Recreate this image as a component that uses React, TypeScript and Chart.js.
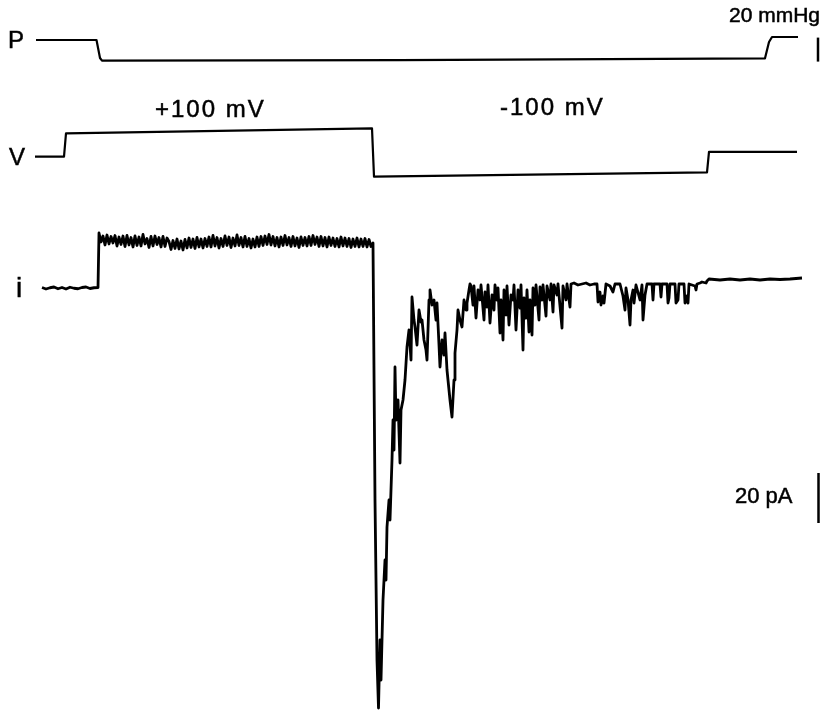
import React, { useEffect, useRef } from "react";
import { Chart, registerables } from "chart.js";

Chart.register(...registerables);

// ---- Time axis (ms) ----
const TIME_MIN = -84;
const TIME_MAX = 1562;

// ---- Pressure trace (mmHg) ----
const pressureTimes = [-12, 109, 116, 120, 716, 1446, 1454, 1460, 1512];
const pressureValues = [0, 0, -15, -17.2, -16.8, -15.3, -1.7, 2.5, 2.5];

// ---- Voltage trace (mV) ----
const voltageTimes = [-14, 44, 48, 660, 664, 1330, 1334, 1510];
const voltageValues = [0, 0, 100, 121, -85, -67, 21, 21];

// ---- Current trace (pA) ----
// resting current before suction, sampled every 8 ms from t = 0
const restStart = 0;
const restStep = 8;
const restCurrent = [0.2, -0.4, 0.1, 0.4, -0.3, 0.2, -0.4, 0.3, -0.1, -0.3, 0.2, 0.4, -0.2, 0.1, 0.2];

// current at +100 mV during suction, sampled every 4 ms from t = 114
const plateauStart = 114;
const plateauStep = 4;
const plateauCurrent = [
  22.0, 18.4, 20.8, 17.2, 21.2, 17.6, 20.6, 18.0, 21.0, 16.8, 20.4, 17.4,
  20.8, 16.6, 21.0, 17.2, 20.2, 16.4, 20.8, 17.0, 20.4, 16.8, 21.4, 17.6, 19.8, 16.2, 20.6, 16.8, 20.8, 17.4, 20.2, 16.4, 20.6, 16.6, 20.0,
  18.6, 15.4, 19.0, 15.8, 19.6, 15.6, 18.8, 15.2, 19.4, 16.0, 20.0, 16.2, 19.6, 15.8, 20.2, 16.4, 19.6, 16.0, 19.8,
  16.6, 20.4, 16.4, 21.0, 16.8, 20.2, 16.0, 19.8, 16.6, 20.8, 17.0, 20.4, 16.2, 20.0, 16.8, 21.2, 17.0, 20.2, 16.4, 20.6, 16.6, 19.8, 16.0, 19.6, 16.4,
  20.4, 16.6, 20.6, 17.0, 20.8, 17.4, 21.4, 17.2, 20.6, 16.8, 20.2, 16.4, 20.4, 17.0, 21.0, 17.2, 20.2, 16.6, 20.6, 16.8, 20.0, 16.2, 20.4, 17.0, 20.2,
  16.8, 20.6, 17.0, 21.0, 17.4, 20.4, 16.6, 20.6, 16.8, 20.2, 16.4, 20.4, 17.0, 20.0, 16.6, 19.8, 16.4, 20.4, 16.8, 20.0, 16.6, 19.8, 16.2, 19.6, 16.6, 20.0, 16.4, 19.6, 16.6, 19.8, 16.4, 19.4, 16.6,
];

// tail current at -100 mV (irregular times)
const tailTimes = [
  662, 666, 670, 673, 676, 678, 682, 686, 688, 690, 694, 696, 700, 702, 704, 706, 708, 712, 716, 718,
  722, 726, 730, 734, 738, 740, 744, 746, 750, 754, 758, 760, 764, 768, 770, 774, 776, 780, 784, 788,
  790, 794, 796, 800, 804, 806, 810, 814, 816, 820, 824, 826, 830, 832, 836, 840, 844, 848, 850, 854,
];
const tailCurrent = [
  18.0, -84.8, -148.8, -168.0, -140.8, -156.8, -124.8, -108.8, -116.8, -95.6, -84.8, -92.8, -68.8, -52.8, -64.8, -31.6, -52.8, -44.8, -70.0, -48.8,
  -44.8, -36.8, -23.6, -16.8, -28.8, -3.6, -12.8, -15.6, -22.8, -8.8, -13.6, -12.8, -20.8, -24.8, -28.8, -4.8, -0.8, -6.8, -4.8, -12.8,
  -6.0, -22.8, -31.6, -20.8, -26.8, -18.0, -32.8, -40.8, -44.8, -51.6, -36.8, -26.0, -16.8, -8.8, -12.8, -15.6, -4.8, -8.8, -6.0, -0.8,
];

// single-channel flickering (irregular times)
const flickerTimes = [
  856, 858, 862, 864, 868, 872, 876, 878, 884, 886, 890, 892, 896, 900, 904, 906, 910, 912, 916, 918,
  922, 924, 928, 930, 934, 938, 942, 944, 948, 952, 956, 958, 962, 964, 968, 970, 974, 976, 980, 982,
  986, 988, 994, 996, 1000, 1002, 1008, 1010, 1016, 1018, 1022, 1024, 1030, 1032, 1040, 1042, 1048, 1050, 1056, 1058,
  1064, 1072, 1080, 1088, 1096, 1104, 1110,
  1112, 1116, 1118, 1122, 1124, 1128, 1136, 1142, 1146, 1156, 1162, 1166, 1168, 1172, 1176, 1178, 1182, 1184, 1188, 1196,
  1200, 1202, 1206, 1210, 1220, 1222, 1224, 1236, 1238, 1240, 1250, 1252, 1254, 1256, 1266, 1268, 1272, 1274, 1284, 1286,
  1290, 1292, 1294, 1306, 1308, 1310, 1316, 1320, 1328, 1330, 1334, 1356, 1376, 1396, 1416, 1436, 1456, 1476, 1496, 1520,
];
const flickerCurrent = [
  1.6, 0.8, -6.8, 0.8, -12.0, -0.8, -4.8, 1.2, -12.8, -1.6, -7.6, 1.2, -14.0, -2.8, -8.8, 1.2, -4.8, 0.0, -18.0, -4.8,
  -20.8, -0.8, -10.8, 0.8, -14.8, -2.8, -4.8, 1.2, -16.8, -0.8, -8.0, 1.2, -24.8, -4.0, -12.0, -0.8, -17.6, -4.8, -18.8, 0.0,
  -6.8, 1.2, -12.8, 0.4, -4.8, 1.2, -11.2, 0.8, -4.8, 1.6, -9.6, 1.2, -2.8, 1.6, -16.0, 0.8, -4.8, 1.6, -7.6, 1.6,
  2.0, 1.2, 1.6, 2.0, 1.2, 1.6, 1.6,
  -5.6, -1.6, -6.8, -3.2, -6.0, 1.6, 0.8, -1.6, 1.6, 1.6, -3.2, -8.8, 0.0, -4.8, -14.8, -4.8, -0.8, -6.0, 1.2, -4.8,
  1.2, -12.8, -2.8, 1.6, 1.6, -4.8, 1.6, 1.6, -3.6, 1.6, 1.6, -6.0, -4.0, 1.6, 1.6, -6.0, -4.8, 1.6, 1.6, -6.0,
  -3.2, -6.0, 1.6, 0.8, -0.8, 1.6, 2.0, 2.4, 2.0, 2.8, 3.6, 3.2, 3.6, 3.2, 3.6, 3.2, 3.6, 3.4, 3.6, 4.0,
];

// ---- Scale bars ----
const pressureBarTime = 1552;
const pressureBar = [-18, 2]; // 20 mmHg
const currentBarTime = 1553;
const currentBar = [-94, -74]; // 20 pA

// ---- Axis ranges ----
const P_MIN = -559.1667;
const P_MAX = 33.3333;
const V_MIN = -2368.8;
const V_MAX = 669.7;
const I_MIN = -169.2;
const I_MAX = 115.2;

const FONT = '"Liberation Sans", Arial, Helvetica, sans-serif';

type Label = { text: string; x: number; y: number; size: number; align: CanvasTextAlign; spacing: string };
const LABELS: Label[] = [
  { text: "P", x: 8, y: 48, size: 24, align: "left", spacing: "0px" },
  { text: "V", x: 9, y: 165, size: 24, align: "left", spacing: "0px" },
  { text: "i", x: 16, y: 297, size: 28, align: "left", spacing: "0px" },
  { text: "+100 mV", x: 155, y: 117, size: 24, align: "left", spacing: "2px" },
  { text: "-100 mV", x: 500, y: 115, size: 24, align: "left", spacing: "2px" },
  { text: "20 mmHg", x: 820, y: 22, size: 21, align: "right", spacing: "0px" },
  { text: "20 pA", x: 735, y: 503, size: 22, align: "left", spacing: "0px" },
];

const labelPlugin = {
  id: "traceLabels",
  afterDraw(chart: any) {
    const ctx: CanvasRenderingContext2D = chart.ctx;
    ctx.save();
    ctx.fillStyle = "#000";
    ctx.strokeStyle = "#000";
    ctx.lineWidth = 0.5;
    ctx.textBaseline = "alphabetic";
    for (const l of LABELS) {
      ctx.font = `${l.size}px ${FONT}`;
      (ctx as any).letterSpacing = l.spacing;
      ctx.textAlign = l.align;
      ctx.fillText(l.text, l.x, l.y);
      ctx.strokeText(l.text, l.x, l.y);
    }
    ctx.restore();
  },
};

function zip(times: number[], values: number[]) {
  return times.map((t, k) => ({ x: t, y: values[k] }));
}

export default function App() {
  const canvasRef = useRef<HTMLCanvasElement | null>(null);

  useEffect(() => {
    const canvas = canvasRef.current;
    if (!canvas) return;

    const currentData = [
      ...restCurrent.map((v, k) => ({ x: restStart + k * restStep, y: v })),
      ...plateauCurrent.map((v, k) => ({ x: plateauStart + k * plateauStep, y: v })),
      ...zip(tailTimes, tailCurrent),
      ...zip(flickerTimes, flickerCurrent),
    ];

    const lineCommon = {
      borderColor: "#000",
      pointRadius: 0,
      tension: 0,
      fill: false,
      borderJoinStyle: "round" as const,
      borderCapStyle: "butt" as const,
    };

    const chart = new Chart(canvas, {
      type: "line",
      data: {
        datasets: [
          { ...lineCommon, label: "P", data: zip(pressureTimes, pressureValues), yAxisID: "yP", borderWidth: 2.2 },
          { ...lineCommon, label: "V", data: zip(voltageTimes, voltageValues), yAxisID: "yV", borderWidth: 2.2 },
          { ...lineCommon, label: "i", data: currentData, yAxisID: "yI", borderWidth: 2.8 },
          {
            ...lineCommon,
            label: "20 mmHg",
            data: pressureBar.map((v) => ({ x: pressureBarTime, y: v })),
            yAxisID: "yP",
            borderWidth: 2.5,
          },
          {
            ...lineCommon,
            label: "20 pA",
            data: currentBar.map((v) => ({ x: currentBarTime, y: v })),
            yAxisID: "yI",
            borderWidth: 2.5,
          },
        ],
      },
      options: {
        animation: false,
        responsive: false,
        maintainAspectRatio: false,
        layout: { padding: 0 },
        plugins: { legend: { display: false }, tooltip: { enabled: false } },
        events: [],
        scales: {
          x: { type: "linear", min: TIME_MIN, max: TIME_MAX, display: false, bounds: "data" },
          yP: { type: "linear", min: P_MIN, max: P_MAX, display: false, bounds: "data" },
          yV: { type: "linear", min: V_MIN, max: V_MAX, display: false, bounds: "data" },
          yI: { type: "linear", min: I_MIN, max: I_MAX, display: false, bounds: "data" },
        },
      },
      plugins: [labelPlugin],
    });

    return () => chart.destroy();
  }, []);

  return (
    <div style={{ position: "fixed", left: 0, top: 0, width: 823, height: 711, background: "#fff" }}>
      <canvas ref={canvasRef} width={823} height={711} style={{ display: "block", width: 823, height: 711 }} />
    </div>
  );
}
